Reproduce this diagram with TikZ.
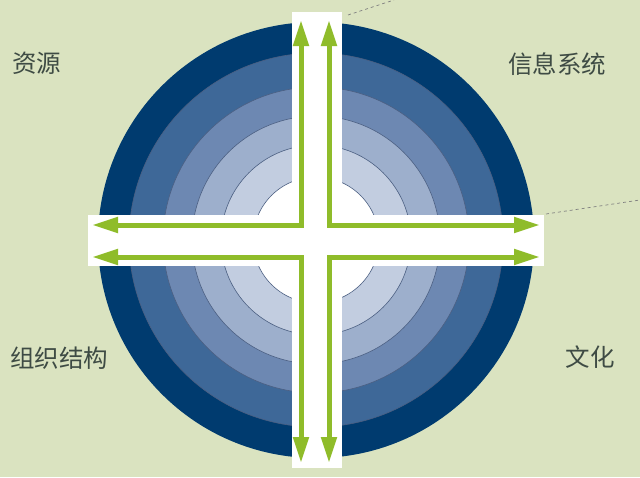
\documentclass[tikz,border=0pt]{standalone}
\usepackage{fontspec}
\newfontfamily\cjk{Noto Sans CJK SC}
\usepackage{xcolor}
\usetikzlibrary{arrows.meta, positioning}
\definecolor{bgcol}{HTML}{DAE3C0}
\definecolor{ringA}{HTML}{003B6F}
\definecolor{ringB}{HTML}{3E6898}
\definecolor{ringC}{HTML}{6D88B2}
\definecolor{ringD}{HTML}{9DAFCC}
\definecolor{ringE}{HTML}{C2CDE0}
\definecolor{ringline}{HTML}{4B5F82}
\definecolor{arrowgreen}{HTML}{8FBC2A}
\definecolor{lbltext}{HTML}{3E4B44}

\begin{document}
\begin{tikzpicture}[x=1pt, y=-1pt, >={Triangle[length=26pt, width=15pt]},
	bar/.style={fill=white, draw=none, inner sep=0pt, outer sep=0pt},
	arrowline/.style={<->, draw=arrowgreen, line width=5pt, line join=miter},
	lbl/.style={text=lbltext, font=\cjk\fontsize{24.5}{24.5}\selectfont},
	leader/.style={draw=gray, line width=0.7pt, dashed}]
	
	% 背景
	\fill[bgcol] (0,0) rectangle (640,477);
	\useasboundingbox (0,0) rectangle (640,477);
	
	% 同心圆
	\fill[ringA] (316,240) circle[radius=218pt];
	\filldraw[fill=ringB, draw=ringline, line width=0.6pt] (316,240) circle[radius=187pt];
	\filldraw[fill=ringC, draw=ringline, line width=0.6pt] (316,240) circle[radius=153pt];
	\filldraw[fill=ringD, draw=ringline, line width=0.6pt] (316,240) circle[radius=124pt];
	\filldraw[fill=ringE, draw=ringline, line width=0.6pt] (316,240) circle[radius=95pt];
	\filldraw[fill=white, draw=ringline, line width=0.6pt] (316,240) circle[radius=63pt];
	
	% 白色十字
	\node[bar, minimum width=50pt, minimum height=456pt] (vbar) at (317,240) {};
	\node[bar, minimum width=456pt, minimum height=51pt] (hbar) at (316,240.5) {};
	
	% 箭头端点
	\coordinate (topL) at (301,20);
	\coordinate (topR) at (329,20);
	\coordinate (botL) at (301,463);
	\coordinate (botR) at (329,463);
	\coordinate (leftT) at (92,225);
	\coordinate (leftB) at (92,257);
	\coordinate (rightT) at (540,225);
	\coordinate (rightB) at (540,257);
	\coordinate (cornerTL) at (301,225);
	\coordinate (cornerTR) at (329,225);
	\coordinate (cornerBL) at (301,257);
	\coordinate (cornerBR) at (329,257);
	
	% 四个L形双向箭头
	\draw[arrowline] (topL) -- (cornerTL) -- (leftT);
	\draw[arrowline] (topR) -- (cornerTR) -- (rightT);
	\draw[arrowline] (leftB) -- (cornerBL) -- (botL);
	\draw[arrowline] (rightB) -- (cornerBR) -- (botR);
	
	% 引线
	\coordinate (leadA) at (348,15);
	\coordinate (leadAend) at (394,0);
	\coordinate (leadB) at (546,214);
	\coordinate (leadBend) at (640,200);
	\draw[leader] (leadA) -- (leadAend);
	\draw[leader] (leadB) -- (leadBend);
	
	% 标签
	\node[lbl] (resource) at (37,63) {资源};
	\node[lbl] (infosys) at (557,64) {信息系统};
	\node[lbl] (orgstruct) at (59,358) {组织结构};
	\node[lbl] (culture) at (590,357) {文化};
	
\end{tikzpicture}
\end{document}
